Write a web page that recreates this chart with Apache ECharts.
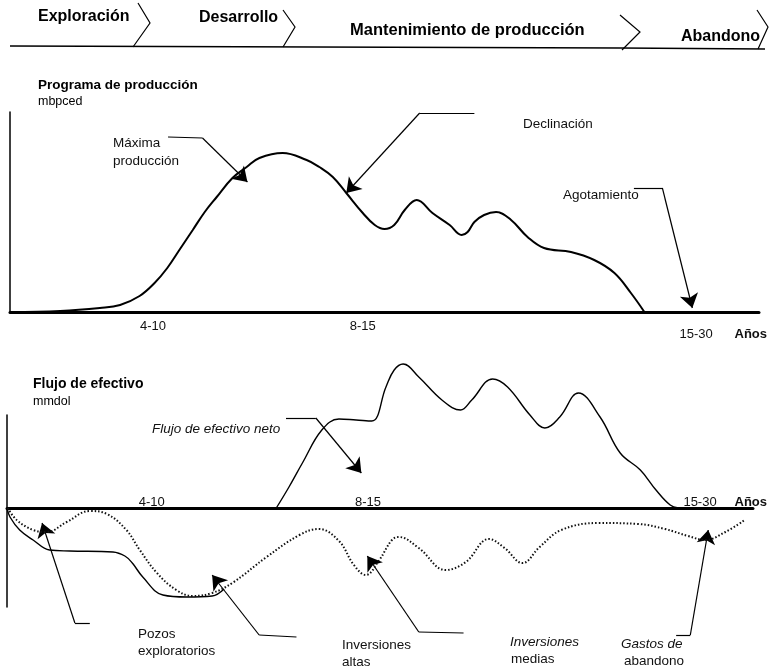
<!DOCTYPE html>
<html>
<head>
<meta charset="utf-8">
<script src="https://cdn.jsdelivr.net/npm/echarts@6/dist/echarts.min.js"></script>
<style>
  html, body { margin: 0; padding: 0; background: #fff; }
  #chart { width: 770px; height: 671px; }
</style>
</head>
<body>
<div id="chart"></div>
<script>
// perfil de produccion (mbpced), x en escala relativa 0-100
const produccion = [
  [0, 0], [6.7, 0.5], [12, 2], [14.7, 3.5], [17.3, 8], [19.3, 14.5], [21, 22], [22.7, 31.5],
  [24.4, 41], [26, 50], [27.6, 57.5], [29.7, 67], [31.6, 72.5], [33.3, 77], [36.4, 79.5],
  [39.6, 76], [41.3, 72.5], [43.1, 67.5], [44.9, 59.5], [47.1, 49.5], [48.7, 43.5], [50, 41.5],
  [51.3, 43.5], [52.7, 51], [54.3, 56], [56.4, 49.5], [58.7, 43.5], [60.3, 38.5], [61.1, 40],
  [62, 45], [63.3, 48.5], [64.9, 50], [66.9, 46], [69.1, 37.5], [71.3, 32], [74.9, 30],
  [78, 26], [80.7, 19.5], [82.9, 9.5], [84.7, 0]
]

// flujo de efectivo neto (mmdol): tramo negativo inicial y tramo positivo
const flujoNetoInicial = [
  [0, 0], [0.4, -9], [1.7, -22], [3.5, -32], [5.7, -42], [8.4, -43], [14.2, -44], [15.8, -48],
  [16.8, -55], [18.2, -69], [20.9, -87], [24.1, -89], [27.5, -88], [29.1, -81]
]
const flujoNetoPositivo = [
  [36.1, 0], [37.8, 21], [39.6, 45], [42.2, 78], [44.5, 89], [46.8, 88], [48.9, 87], [50.8, 121],
  [51.9, 138], [53.1, 144], [55.2, 131], [58.3, 108], [60.8, 98], [62.3, 108], [65.1, 129],
  [67.1, 121], [70.1, 93], [72.1, 80], [74.1, 91], [76.6, 115], [79.5, 91], [82.2, 55],
  [84.9, 38], [87, 18], [88.9, 3], [90, 0]
]

// inversiones / gastos (linea punteada)
const inversiones = [
  [0.1, 0], [1.3, -12], [3.5, -22], [5.3, -24], [8, -14], [11.1, -3], [13.4, -6], [16, -22],
  [17.8, -42], [20.1, -65], [22.7, -82], [24.9, -88], [27.5, -85], [30.2, -75], [34.8, -49],
  [39.2, -27], [41.8, -21], [44.5, -33], [46.5, -57], [48.1, -67], [49.9, -52], [51.6, -32],
  [52.5, -29], [55.2, -40], [58.8, -62], [61.5, -54], [64.6, -31], [66.7, -40], [69.1, -55],
  [71.4, -39], [74.3, -22], [79.3, -15], [84.6, -16], [88.2, -21], [91.3, -28], [93.6, -32],
  [96.3, -24], [98.9, -12]
]

// etiquetas del eje de tiempo
const etiquetasAnios = ['4-10', '8-15', '15-30', 'Años']
const posArriba = [19.1, 47.1, 91.6, 98.9]
const posAbajo = [19.4, 48.4, 92.9, 99.7]

// flechas de anotacion: [inicio, quiebre, punta]
const flechasArriba = [
  [[21.1, 87.5], [25.7, 87], [31.7, 65]],   // Maxima produccion
  [[62, 99.5], [54.7, 99.5], [44.9, 59.5]], // Declinacion
  [[83.3, 62], [87.1, 62], [91.1, 2]]       // Agotamiento
]
const flechasAbajo = [
  [[37.4, 90], [41.4, 90], [47.5, 35]],         // Flujo de efectivo neto
  [[11.1, -115], [9.1, -115], [4.7, -15]],      // Pozos exploratorios
  [[38.8, -129], [33.8, -127], [27.5, -67]],
  [[61.2, -125], [55.2, -124], [48.3, -48]],    // Inversiones altas
  [[89.7, -127], [91.6, -127], [94, -22]]       // Gastos de abandono
]

const FONT = 'Liberation Sans, Arial, sans-serif'

function tramos(flechas) {
  return flechas.map(f => ({ coords: [f[0], f[1]] }))
}
function puntas(flechas) {
  return flechas.map(f => ({ coords: [f[1], f[2]] }))
}
function etiqueta(pos) {
  return function(v) {
    let i = 0
    pos.forEach((p, k) => { if (Math.abs(p - v) < Math.abs(pos[i] - v)) i = k })
    const t = etiquetasAnios[i]
    if (t === 'Años') return '{b|' + t + '}'
    if (i === 2) return '{d|' + t + '}'
    return t
  }
}

const chart = echarts.init(document.getElementById('chart'))

const ejeX = {
  type: 'value', min: 0, max: 100,
  splitLine: { show: false },
  axisTick: { show: false },
  axisLine: { onZero: false, lineStyle: { color: '#000', width: 3 } }
}
const ejeY = {
  type: 'value',
  splitLine: { show: false },
  axisTick: { show: false },
  axisLabel: { show: false },
  axisLine: { show: true, onZero: false, lineStyle: { color: '#000', width: 1.5 } }
}

const option = {
  backgroundColor: '#fff',
  animation: false,
  grid: [
    { left: 10, right: 10, top: 112, height: 200 },
    { left: 7, right: 15, top: 415, height: 192 }
  ],
  xAxis: [
    Object.assign({}, ejeX, {
      gridIndex: 0,
      axisLabel: {
        customValues: posArriba, formatter: etiqueta(posArriba), margin: 8,
        color: '#111', fontSize: 13, fontFamily: FONT,
        rich: {
          b: { fontWeight: 'bold', fontSize: 13, fontFamily: FONT, color: '#111', padding: [8, 0, 0, 0] },
          d: { fontSize: 13, fontFamily: FONT, color: '#111', padding: [8, 0, 0, 0] }
        }
      }
    }),
    Object.assign({}, ejeX, {
      gridIndex: 1,
      position: 'bottom',
      offset: -99, // eje en el cero: 93 unidades arriba, 99 abajo
      axisLabel: {
        customValues: posAbajo, formatter: etiqueta(posAbajo), inside: true, margin: -1,
        color: '#111', fontSize: 13, fontFamily: FONT,
        rich: {
          b: { fontWeight: 'bold', fontSize: 13, fontFamily: FONT, color: '#111' },
          d: { fontSize: 13, fontFamily: FONT, color: '#111' }
        }
      }
    })
  ],
  yAxis: [
    Object.assign({}, ejeY, { gridIndex: 0, min: 0, max: 100 }),
    Object.assign({}, ejeY, { gridIndex: 1, min: -99, max: 93 })
  ],
  series: [
    {
      name: 'Programa de producción', type: 'line', xAxisIndex: 0, yAxisIndex: 0,
      data: produccion, smooth: 0.4, showSymbol: false, clip: false,
      lineStyle: { color: '#000', width: 2 }
    },
    {
      name: 'Flujo de efectivo neto', type: 'line', xAxisIndex: 1, yAxisIndex: 1,
      data: flujoNetoInicial, smooth: 0.4, showSymbol: false, clip: false,
      lineStyle: { color: '#000', width: 1.4 }
    },
    {
      name: 'Flujo de efectivo neto', type: 'line', xAxisIndex: 1, yAxisIndex: 1,
      data: flujoNetoPositivo, smooth: 0.4, showSymbol: false, clip: false,
      lineStyle: { color: '#000', width: 1.4 }
    },
    {
      name: 'Inversiones', type: 'line', xAxisIndex: 1, yAxisIndex: 1,
      data: inversiones, smooth: 0.4, showSymbol: false, clip: false,
      lineStyle: { color: '#111', width: 2, type: [1.5, 2] }
    },
    // lineas de llamada y flechas
    {
      type: 'lines', coordinateSystem: 'cartesian2d', xAxisIndex: 0, yAxisIndex: 0, clip: false,
      silent: true, symbol: 'none', lineStyle: { color: '#000', width: 1.2, opacity: 1 },
      data: tramos(flechasArriba)
    },
    {
      type: 'lines', coordinateSystem: 'cartesian2d', xAxisIndex: 0, yAxisIndex: 0, clip: false,
      silent: true, symbol: ['none', 'arrow'], symbolSize: [10, 14],
      lineStyle: { color: '#000', width: 1.2, opacity: 1 },
      data: puntas(flechasArriba)
    },
    {
      type: 'lines', coordinateSystem: 'cartesian2d', xAxisIndex: 1, yAxisIndex: 1, clip: false,
      silent: true, symbol: 'none', lineStyle: { color: '#000', width: 1.2, opacity: 1 },
      data: tramos(flechasAbajo)
    },
    {
      type: 'lines', coordinateSystem: 'cartesian2d', xAxisIndex: 1, yAxisIndex: 1, clip: false,
      silent: true, symbol: ['none', 'arrow'], symbolSize: [10, 14],
      lineStyle: { color: '#000', width: 1.2, opacity: 1 },
      data: puntas(flechasAbajo)
    }
  ],
  graphic: [
    // encabezado de etapas
    { type: 'polyline', shape: { points: [[10, 46], [620, 48], [765, 49]] }, style: { stroke: '#000', lineWidth: 1.5, fill: null } },
    { type: 'polyline', shape: { points: [[138, 3], [150, 23], [133, 47]] }, style: { stroke: '#000', lineWidth: 1.2, fill: null } },
    { type: 'polyline', shape: { points: [[283, 10], [295, 27], [283, 47]] }, style: { stroke: '#000', lineWidth: 1.2, fill: null } },
    { type: 'polyline', shape: { points: [[620, 15], [640, 32], [622, 50]] }, style: { stroke: '#000', lineWidth: 1.2, fill: null } },
    { type: 'polyline', shape: { points: [[757, 10], [768, 27], [758, 49]] }, style: { stroke: '#000', lineWidth: 1.2, fill: null } },
    { type: 'text', left: 38, top: 9, style: { text: 'Exploración', font: 'bold 16px ' + FONT, fill: '#000' } },
    { type: 'text', left: 199, top: 10, style: { text: 'Desarrollo', font: 'bold 16px ' + FONT, fill: '#000' } },
    { type: 'text', left: 350, top: 22, style: { text: 'Mantenimiento de producción', font: 'bold 16.5px ' + FONT, fill: '#000' } },
    { type: 'text', left: 681, top: 29, style: { text: 'Abandono', font: 'bold 16px ' + FONT, fill: '#000' } },
    // titulos
    { type: 'text', left: 38, top: 78, style: { text: 'Programa de producción', font: 'bold 13.5px ' + FONT, fill: '#000' } },
    { type: 'text', left: 38, top: 95, style: { text: 'mbpced', font: '12.5px ' + FONT, fill: '#000' } },
    { type: 'text', left: 33, top: 377, style: { text: 'Flujo de efectivo', font: 'bold 14px ' + FONT, fill: '#000' } },
    { type: 'text', left: 33, top: 395, style: { text: 'mmdol', font: '12.5px ' + FONT, fill: '#000' } },
    // anotaciones
    { type: 'text', right: 770 - 179, top: 134, style: { text: 'Máxima\nproducción', font: '13.5px ' + FONT, fill: '#111', align: 'right', lineHeight: 18 } },
    { type: 'text', left: 523, top: 117, style: { text: 'Declinación', font: '13.5px ' + FONT, fill: '#111' } },
    { type: 'text', left: 563, top: 188, style: { text: 'Agotamiento', font: '13.5px ' + FONT, fill: '#111' } },
    { type: 'text', left: 152, top: 422, style: { text: 'Flujo de efectivo neto', font: 'italic 13.5px ' + FONT, fill: '#111' } },
    { type: 'text', left: 138, top: 626, style: { text: 'Pozos\nexploratorios', font: '13.5px ' + FONT, fill: '#111', lineHeight: 17 } },
    { type: 'text', left: 342, top: 637, style: { text: 'Inversiones\naltas', font: '13.5px ' + FONT, fill: '#111', lineHeight: 17 } },
    { type: 'text', left: 510, top: 635, style: { text: 'Inversiones', font: 'italic 13.5px ' + FONT, fill: '#111' } },
    { type: 'text', left: 511, top: 652, style: { text: 'medias', font: '13.5px ' + FONT, fill: '#111' } },
    { type: 'text', left: 621, top: 637, style: { text: 'Gastos de', font: 'italic 13.5px ' + FONT, fill: '#111' } },
    { type: 'text', left: 624, top: 654, style: { text: 'abandono', font: '13.5px ' + FONT, fill: '#111' } }
  ]
}

chart.setOption(option)
window.addEventListener('resize', function() {
  chart.resize()
})
</script>
</body>
</html>
